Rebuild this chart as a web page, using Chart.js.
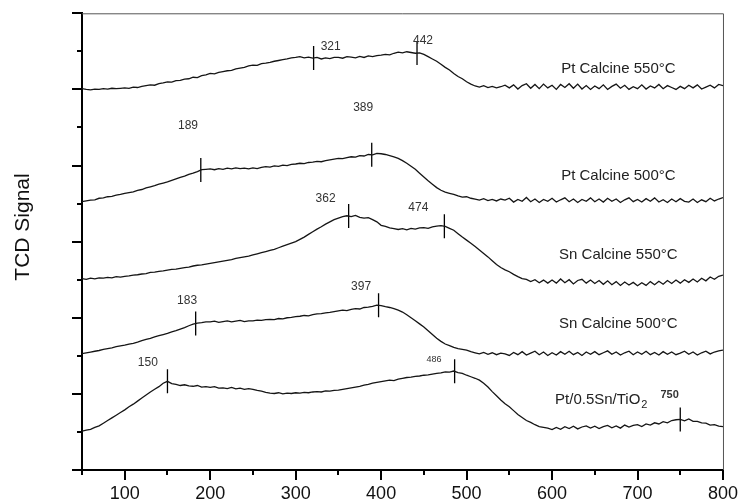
<!DOCTYPE html>
<html>
<head>
<meta charset="utf-8">
<script src="https://cdn.jsdelivr.net/npm/chart.js@4/dist/chart.umd.min.js"></script>
<style>
  html, body { margin: 0; padding: 0; background: #fff; }
  #wrap { width: 741px; height: 503px; }
</style>
</head>
<body>
<div id="wrap"><canvas id="tpr" width="741" height="503"></canvas></div>
<script>
// Reduction temperature grid (°C)
const temps = [
  50,55,60,65,70,75,80,85,90,95,
  100,105,110,115,120,125,130,135,140,145,
  150,155,160,165,170,175,180,185,190,195,
  200,205,210,215,220,225,230,235,240,245,
  250,255,260,265,270,275,280,285,290,295,
  300,305,310,315,320,325,330,335,340,345,
  350,355,360,365,370,375,380,385,390,395,
  400,405,410,415,420,425,430,435,440,445,
  450,455,460,465,470,475,480,485,490,495,
  500,505,510,515,520,525,530,535,540,545,
  550,555,560,565,570,575,580,585,590,595,
  600,605,610,615,620,625,630,635,640,645,
  650,655,660,665,670,675,680,685,690,695,
  700,705,710,715,720,725,730,735,740,745,
  750,755,760,765,770,775,780,785,790,795,
  800
];

// TCD signal, stacked with vertical offsets (arbitrary units)
const ptCalcine550 = [
  10.02,10.00,9.99,10.01,10.00,10.02,10.01,10.03,10.02,10.03,
  10.04,10.03,10.06,10.05,10.08,10.10,10.12,10.11,10.15,10.17,
  10.20,10.19,10.23,10.24,10.27,10.28,10.32,10.31,10.36,10.38,
  10.42,10.41,10.45,10.47,10.49,10.50,10.54,10.56,10.58,10.62,
  10.64,10.63,10.68,10.69,10.71,10.74,10.76,10.78,10.80,10.83,
  10.84,10.86,10.83,10.85,10.82,10.84,10.80,10.83,10.81,10.84,
  10.84,10.82,10.86,10.85,10.83,10.87,10.84,10.88,10.86,10.89,
  10.90,10.92,10.91,10.95,10.98,10.96,10.99,10.97,10.95,10.96,
  10.92,10.86,10.80,10.74,10.66,10.58,10.51,10.42,10.34,10.28,
  10.20,10.14,10.09,10.06,10.10,10.05,10.08,10.04,10.07,10.11,
  10.04,10.12,10.01,10.10,10.15,10.03,10.13,10.02,10.14,10.04,
  10.11,10.00,10.13,10.05,10.15,10.03,10.14,10.01,10.10,10.00,
  10.09,10.02,10.12,10.00,10.08,10.14,10.03,10.11,10.00,10.07,
  10.02,10.12,10.01,10.09,10.04,10.13,10.02,10.10,10.05,10.00,
  10.08,10.02,10.11,10.04,10.12,10.01,10.06,10.11,10.04,10.13,
  10.10
];
const ptCalcine500 = [
  7.05,7.07,7.09,7.10,7.14,7.15,7.18,7.19,7.22,7.24,
  7.27,7.29,7.31,7.35,7.37,7.41,7.44,7.47,7.51,7.54,
  7.57,7.61,7.65,7.69,7.72,7.77,7.80,7.84,7.89,7.90,
  7.91,7.89,7.92,7.90,7.93,7.91,7.94,7.92,7.93,7.91,
  7.94,7.92,7.95,7.97,7.96,7.99,7.98,8.01,8.00,8.03,
  8.04,8.06,8.05,8.08,8.09,8.11,8.10,8.13,8.15,8.17,
  8.19,8.18,8.21,8.23,8.22,8.26,8.25,8.29,8.28,8.32,
  8.31,8.29,8.26,8.23,8.19,8.13,8.06,7.98,7.90,7.80,
  7.70,7.60,7.51,7.42,7.35,7.30,7.27,7.24,7.20,7.17,
  7.18,7.14,7.12,7.09,7.13,7.08,7.11,7.07,7.12,7.09,
  7.14,7.04,7.11,7.06,7.16,7.05,7.12,7.03,7.11,7.06,
  7.14,7.04,7.10,7.15,7.05,7.12,7.03,7.11,7.06,7.15,
  7.05,7.12,7.04,7.14,7.06,7.12,7.03,7.10,7.15,7.05,
  7.11,7.04,7.13,7.06,7.15,7.04,7.10,7.03,7.12,7.05,
  7.13,7.06,7.04,7.12,7.03,7.10,7.05,7.14,7.07,7.12,
  7.16
];
const snCalcine550 = [
  5.03,5.01,5.04,5.02,5.05,5.04,5.06,5.05,5.08,5.07,
  5.09,5.10,5.12,5.13,5.15,5.16,5.19,5.20,5.22,5.23,
  5.25,5.27,5.28,5.30,5.32,5.33,5.36,5.38,5.39,5.41,
  5.43,5.45,5.47,5.49,5.51,5.53,5.56,5.58,5.60,5.62,
  5.65,5.68,5.71,5.74,5.77,5.80,5.84,5.88,5.92,5.96,
  6.00,6.06,6.12,6.19,6.26,6.33,6.39,6.46,6.52,6.58,
  6.62,6.66,6.68,6.66,6.69,6.64,6.62,6.63,6.58,6.52,
  6.43,6.40,6.36,6.34,6.32,6.34,6.31,6.35,6.33,6.36,
  6.37,6.35,6.39,6.41,6.42,6.40,6.35,6.30,6.21,6.12,
  6.04,5.96,5.87,5.78,5.69,5.60,5.50,5.40,5.32,5.26,
  5.21,5.14,5.08,5.03,5.01,4.95,5.00,4.92,4.99,4.91,
  4.99,4.91,5.02,4.92,5.00,4.89,4.98,5.01,4.91,4.99,
  4.90,4.98,4.88,4.97,4.87,4.95,4.85,4.94,4.86,4.93,
  4.84,4.92,4.85,4.95,4.87,4.96,4.88,4.98,4.90,4.99,
  4.91,5.00,4.93,5.02,4.94,5.04,4.97,5.07,5.01,5.09,
  5.12
];
const snCalcine500 = [
  3.06,3.08,3.10,3.12,3.14,3.17,3.19,3.21,3.24,3.26,
  3.28,3.31,3.33,3.36,3.40,3.43,3.46,3.50,3.53,3.56,
  3.59,3.63,3.66,3.70,3.74,3.79,3.83,3.86,3.87,3.89,
  3.89,3.91,3.88,3.90,3.92,3.89,3.91,3.93,3.90,3.92,
  3.92,3.94,3.93,3.95,3.96,3.95,3.98,3.97,4.00,4.01,
  4.03,4.04,4.06,4.05,4.08,4.10,4.11,4.13,4.14,4.16,
  4.18,4.20,4.19,4.22,4.24,4.23,4.27,4.28,4.30,4.33,
  4.32,4.29,4.27,4.24,4.20,4.15,4.08,4.00,3.92,3.84,
  3.76,3.66,3.56,3.46,3.38,3.31,3.27,3.22,3.19,3.17,
  3.15,3.11,3.08,3.05,3.09,3.04,3.08,3.03,3.07,3.05,
  3.01,3.09,3.03,3.11,3.02,3.07,3.12,3.03,3.10,3.01,
  3.08,3.02,3.11,3.04,3.12,3.03,3.09,3.01,3.10,3.04,
  3.11,3.03,3.08,3.13,3.04,3.10,3.02,3.08,3.12,3.03,
  3.10,3.04,3.12,3.03,3.09,3.02,3.11,3.04,3.10,3.03,
  3.07,3.12,3.04,3.10,3.02,3.08,3.12,3.05,3.10,3.13,
  3.15
];
const ptSnTiO2 = [
  1.02,1.05,1.07,1.12,1.16,1.23,1.30,1.37,1.44,1.51,
  1.58,1.66,1.73,1.81,1.89,1.97,2.05,2.12,2.19,2.28,
  2.33,2.27,2.25,2.22,2.24,2.21,2.20,2.22,2.18,2.19,
  2.17,2.19,2.15,2.16,2.14,2.17,2.13,2.15,2.12,2.14,
  2.12,2.09,2.07,2.04,2.02,2.01,2.03,2.00,2.02,2.01,
  2.03,2.02,2.04,2.03,2.05,2.06,2.05,2.08,2.07,2.09,
  2.10,2.12,2.14,2.16,2.18,2.20,2.23,2.25,2.28,2.30,
  2.32,2.34,2.36,2.35,2.39,2.41,2.43,2.44,2.46,2.47,
  2.49,2.50,2.52,2.54,2.55,2.58,2.57,2.60,2.56,2.54,
  2.49,2.45,2.41,2.36,2.28,2.18,2.06,1.95,1.84,1.74,
  1.66,1.56,1.46,1.38,1.30,1.25,1.19,1.14,1.12,1.10,
  1.06,1.12,1.07,1.14,1.09,1.15,1.08,1.13,1.16,1.10,
  1.15,1.09,1.14,1.17,1.11,1.16,1.10,1.18,1.13,1.17,
  1.19,1.14,1.21,1.18,1.24,1.21,1.27,1.24,1.30,1.32,
  1.33,1.29,1.34,1.28,1.28,1.24,1.23,1.18,1.19,1.15,
  1.14
];

// Sample names, in the same order as the traces
const sampleNames = ['Pt Calcine 550°C', 'Pt Calcine 500°C', 'Sn Calcine 550°C', 'Sn Calcine 500°C', 'Pt/0.5Sn/TiO'];
const traces = [ptCalcine550, ptCalcine500, snCalcine550, snCalcine500, ptSnTiO2];

// Reduction peak temperatures (°C) and which trace each belongs to
const peakTemps  = [321, 442, 189, 389, 362, 474, 183, 397, 150, 486, 750];
const peakTrace  = [0,   0,   1,   1,   2,   2,   3,   3,   4,   4,   4];

// Axis tick values
const xTickValues = [100, 200, 300, 400, 500, 600, 700, 800];
const xMinorTicks = [50, 150, 250, 350, 450, 550, 650, 750];
const yTickValues = [0, 2, 4, 6, 8, 10, 12];
const yMinorTicks = [1, 3, 5, 7, 9, 11];

// Where the peak temperature labels sit, in axis units (°C, signal)
const peakLabelSpots = [
  { x: 341, y: 11.11 }, { x: 449, y: 11.27 },
  { x: 174, y: 9.06 },  { x: 379, y: 9.53 },
  { x: 335, y: 7.12 },  { x: 443.5, y: 6.88 },
  { x: 173, y: 4.46 },  { x: 376.5, y: 4.81 },
  { x: 127, y: 2.81 },  { x: 462, y: 2.89 },  { x: 737.6, y: 1.97 }
];
const peakLabelFonts = [
  '12px "Liberation Sans", Arial, sans-serif', '12px "Liberation Sans", Arial, sans-serif',
  '12px "Liberation Sans", Arial, sans-serif', '12px "Liberation Sans", Arial, sans-serif',
  '12px "Liberation Sans", Arial, sans-serif', '12px "Liberation Sans", Arial, sans-serif',
  '12px "Liberation Sans", Arial, sans-serif', '12px "Liberation Sans", Arial, sans-serif',
  '12px "Liberation Sans", Arial, sans-serif', '9px "Liberation Sans", Arial, sans-serif',
  'bold 11px "Liberation Sans", Arial, sans-serif'
];
// Sample name positions (°C, signal)
const nameSpots = [
  { x: 677.6, y: 10.53, align: 'center' },
  { x: 677.6, y: 7.72,  align: 'center' },
  { x: 677.6, y: 5.65,  align: 'center' },
  { x: 677.6, y: 3.83,  align: 'center' },
  { x: 603.5, y: 1.84,  align: 'left' }
];

const FONT = '"Liberation Sans", Arial, Helvetica, sans-serif';

function signalAt(series, t) {
  for (let i = 0; i < temps.length - 1; i++) {
    if (t >= temps[i] && t <= temps[i + 1]) {
      const f = (t - temps[i]) / (temps[i + 1] - temps[i]);
      return series[i] + f * (series[i + 1] - series[i]);
    }
  }
  return series[series.length - 1];
}

const traceSets = traces.map((s, k) => ({
  type: 'line',
  label: sampleNames[k],
  data: temps.map((t, i) => ({ x: t, y: s[i] })),
  borderColor: '#151515',
  borderWidth: 1.3,
  pointRadius: 0,
  tension: 0,
  fill: false
}));

const peakMarks = {
  type: 'scatter',
  label: 'peaks',
  data: peakTemps.map((t, i) => ({ x: t, y: signalAt(traces[peakTrace[i]], t) })),
  pointStyle: 'line',
  rotation: 90,
  radius: 12,
  borderColor: '#000',
  borderWidth: 1.3,
  backgroundColor: '#000'
};

const decorations = {
  id: 'decorations',
  afterDraw(chart) {
    const { ctx, chartArea: a, scales: { x, y } } = chart;
    ctx.save();

    // thin frame on the top and right
    ctx.strokeStyle = '#555';
    ctx.lineWidth = 1;
    ctx.beginPath();
    ctx.moveTo(a.left, a.top + 0.5);
    ctx.lineTo(a.right + 0.5, a.top + 0.5);
    ctx.lineTo(a.right + 0.5, a.bottom);
    ctx.stroke();

    // minor tick marks
    ctx.strokeStyle = '#000';
    ctx.lineWidth = 2;
    ctx.beginPath();
    xMinorTicks.forEach(v => {
      const px = Math.round(x.getPixelForValue(v));
      ctx.moveTo(px, a.bottom);
      ctx.lineTo(px, a.bottom + 5);
    });
    yMinorTicks.forEach(v => {
      const py = Math.round(y.getPixelForValue(v));
      ctx.moveTo(a.left, py);
      ctx.lineTo(a.left - 5, py);
    });
    ctx.stroke();

    // y-axis title
    ctx.fillStyle = '#111';
    ctx.font = '21px ' + FONT;
    ctx.textAlign = 'center';
    ctx.textBaseline = 'middle';
    ctx.save();
    ctx.translate(23, 227);
    ctx.rotate(-Math.PI / 2);
    ctx.fillText('TCD Signal', 0, 0);
    ctx.restore();

    // sample names
    ctx.fillStyle = '#222';
    ctx.font = '15px ' + FONT;
    sampleNames.forEach((name, k) => {
      const s = nameSpots[k];
      const px = x.getPixelForValue(s.x);
      const py = y.getPixelForValue(s.y);
      ctx.textAlign = s.align;
      ctx.fillText(name, px, py);
      if (k === 4) {
        const w = ctx.measureText(name).width;
        ctx.font = '11px ' + FONT;
        ctx.textAlign = 'left';
        ctx.fillText('2', px + w + 1, py + 5);
        ctx.font = '15px ' + FONT;
      }
    });

    // peak temperature labels
    ctx.fillStyle = '#333';
    ctx.textAlign = 'center';
    peakTemps.forEach((t, i) => {
      const s = peakLabelSpots[i];
      ctx.font = peakLabelFonts[i];
      ctx.fillText(String(t), x.getPixelForValue(s.x), y.getPixelForValue(s.y));
    });

    ctx.restore();
  }
};

new Chart(document.getElementById('tpr'), {
  data: { datasets: [...traceSets, peakMarks] },
  options: {
    responsive: false,
    animation: false,
    devicePixelRatio: 1,
    layout: { padding: { top: 13, right: 18, left: 0, bottom: 0 } },
    plugins: { legend: { display: false }, tooltip: { enabled: false } },
    scales: {
      x: {
        type: 'linear',
        min: 50,
        max: 800,
        afterBuildTicks: s => { s.ticks = xTickValues.map(v => ({ value: v })); },
        afterFit: s => { s.height = 33; },
        grid: { display: true, drawOnChartArea: false, drawTicks: true, tickLength: 10, color: '#000', lineWidth: 2 },
        border: { display: true, color: '#000', width: 2 },
        ticks: { color: '#111', font: { family: FONT, size: 18 }, padding: 3, maxRotation: 0 }
      },
      y: {
        type: 'linear',
        min: 0,
        max: 12,
        afterBuildTicks: s => { s.ticks = yTickValues.map(v => ({ value: v })); },
        afterFit: s => { s.width = 82; },
        grid: { display: true, drawOnChartArea: false, drawTicks: true, tickLength: 10, color: '#000', lineWidth: 2 },
        border: { display: true, color: '#000', width: 2 },
        ticks: { display: false }
      }
    }
  },
  plugins: [decorations]
});
</script>
</body>
</html>
